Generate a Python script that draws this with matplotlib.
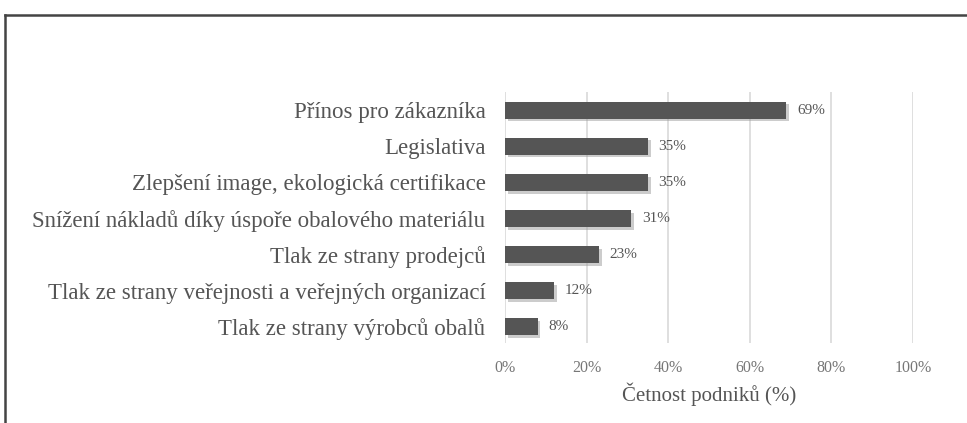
import matplotlib.pyplot as plt
import matplotlib.patheffects as pe
from matplotlib.lines import Line2D

categories = [
    "Přínos pro zákazníka",
    "Legislativa",
    "Zlepšení image, ekologická certifikace",
    "Snížení nákladů díky úspoře obalového materiálu",
    "Tlak ze strany prodejců",
    "Tlak ze strany veřejnosti a veřejných organizací",
    "Tlak ze strany výrobců obalů",
]
shares = [0.69, 0.35, 0.35, 0.31, 0.23, 0.12, 0.08]
xticks = [0, 0.2, 0.4, 0.6, 0.8, 1.0]
xlabel = "Četnost podniků (%)"

serif = ["Liberation Serif", "DejaVu Serif"]

fig = plt.figure(figsize=(9.67, 4.23), dpi=100)
ax = fig.add_axes([0.5222, 0.189, 0.4219, 0.5935])

ypos = list(range(len(categories)))
bars = ax.barh(ypos, shares, height=0.47, color="#555555", zorder=3)
for b in bars:
    b.set_path_effects([
        pe.SimplePatchShadow(offset=(2, -2), shadow_rgbFace="#9a9a9a", alpha=0.5),
        pe.Normal(),
    ])

for y, v in zip(ypos, shares):
    ax.text(v + 0.026, y, "%d%%" % round(v * 100), va="center", ha="left",
            fontsize=11, color="#555555", family=serif)

ax.set_ylim(6.45, -0.5)
ax.set_xlim(0, 1.0)
ax.set_yticks(ypos)
ax.set_yticklabels(categories, family=serif, fontsize=16.5, color="#555555")
ax.tick_params(axis="y", length=0, pad=14)
ax.set_xticks(xticks)
ax.set_xticklabels(["%d%%" % round(t * 100) for t in xticks], family=serif,
                   fontsize=11.5, color="#777777")
ax.tick_params(axis="x", length=0, pad=12)
ax.xaxis.grid(True, color="#d9d9d9", linewidth=1.2, zorder=0)
ax.set_axisbelow(True)
for s in ax.spines.values():
    s.set_visible(False)
ax.set_xlabel(xlabel, family=serif, fontsize=15, color="#555555", labelpad=5)

# outer frame: top and left edges only
fig.add_artist(Line2D([5 / 967, 1.0], [1 - 15 / 423, 1 - 15 / 423],
                      transform=fig.transFigure, color="#444444", linewidth=1.8))
fig.add_artist(Line2D([5 / 967, 5 / 967], [0, 1 - 15 / 423],
                      transform=fig.transFigure, color="#444444", linewidth=1.8))

fig.savefig("out.png", dpi=100)
